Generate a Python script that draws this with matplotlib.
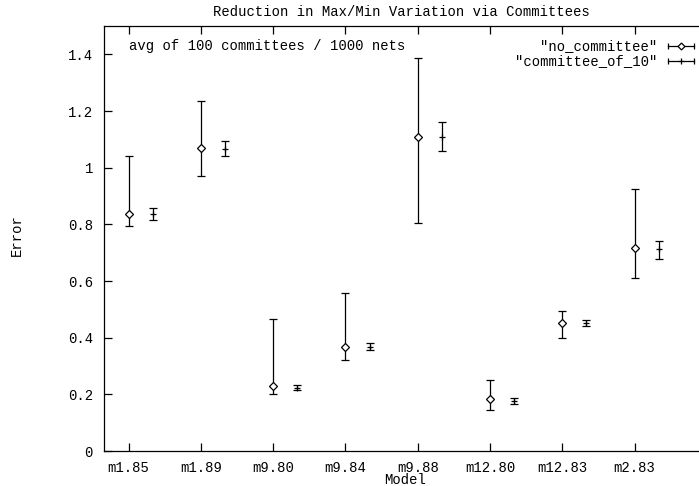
import matplotlib.pyplot as plt
from matplotlib.ticker import FuncFormatter, MultipleLocator

models = ['m1.85', 'm1.89', 'm9.80', 'm9.84', 'm9.88', 'm12.80', 'm12.83', 'm2.83']

# no committee: mean with min / max over the nets
no_comm_mean = [0.838, 1.071, 0.230, 0.368, 1.110, 0.185, 0.453, 0.718]
no_comm_min  = [0.793, 0.971, 0.200, 0.321, 0.805, 0.145, 0.399, 0.612]
no_comm_max  = [1.042, 1.237, 0.465, 0.556, 1.387, 0.249, 0.494, 0.925]

# committee of 10
comm10_mean = [0.835, 1.066, 0.223, 0.368, 1.107, 0.176, 0.452, 0.712]
comm10_min  = [0.814, 1.042, 0.214, 0.358, 1.059, 0.165, 0.440, 0.678]
comm10_max  = [0.858, 1.094, 0.232, 0.381, 1.161, 0.187, 0.463, 0.742]

FONT = 'Liberation Mono'
FS = 10


def main():
    W, H = 699, 486
    fig = plt.figure(figsize=(W / 100, H / 100), dpi=100)
    # axes box in pixels: left 104, right 699, top 26, bottom 451
    ax = fig.add_axes([104 / W, (H - 451) / H, 595 / W, 425 / H])

    xs = list(range(len(models)))
    xs2 = [x + 1 / 3 for x in xs]

    err_no = [[m - lo for m, lo in zip(no_comm_mean, no_comm_min)],
              [hi - m for m, hi in zip(no_comm_mean, no_comm_max)]]
    err_c = [[m - lo for m, lo in zip(comm10_mean, comm10_min)],
             [hi - m for m, hi in zip(comm10_mean, comm10_max)]]

    ax.errorbar(xs, no_comm_mean, yerr=err_no, fmt='D', ms=4, mfc='white',
                mec='black', mew=0.9, ecolor='black', elinewidth=0.9,
                capsize=3, capthick=0.9, zorder=3)
    ax.errorbar(xs2, comm10_mean, yerr=err_c, fmt='+', ms=5, mec='black',
                mew=0.9, ecolor='black', elinewidth=0.9,
                capsize=3, capthick=0.9, zorder=3)

    ax.set_xlim(-0.34, 7.89)
    ax.set_ylim(0, 1.5)

    ax.set_xticks(xs)
    ax.set_xticklabels(models, fontfamily=FONT, fontsize=FS)
    ax.yaxis.set_major_locator(MultipleLocator(0.2))
    ax.yaxis.set_major_formatter(FuncFormatter(lambda v, p: '%g' % round(v, 2)))
    for lab in ax.get_yticklabels():
        lab.set_fontfamily(FONT)
        lab.set_fontsize(FS)

    # gnuplot style ticks: inward, mirrored on top
    ax.tick_params(axis='x', direction='in', length=6, width=0.9, top=True,
                   pad=7, colors='black')
    ax.tick_params(axis='y', direction='in', length=6, width=0.9, right=False,
                   pad=8, colors='black')
    for s in ['left', 'bottom', 'top']:
        ax.spines[s].set_linewidth(0.9)
    ax.spines['right'].set_visible(False)

    # labels
    fig.text(401 / W, 1 - 12 / H, 'Reduction in Max/Min Variation via Committees',
             ha='center', va='center', fontfamily=FONT, fontsize=FS)
    fig.text(405 / W, 1 - 480 / H, 'Model', ha='center', va='center',
             fontfamily=FONT, fontsize=FS)
    fig.text(17 / W, 1 - 235 / H, 'Error', ha='center', va='center',
             rotation=90, fontfamily=FONT, fontsize=FS)
    ax.text(0, 1.43, 'avg of 100 committees / 1000 nets', ha='left', va='center',
            fontfamily=FONT, fontsize=FS)

    # key, drawn by hand like gnuplot (horizontal error bar sample)
    keys = [('"no_committee"', 'D', 3.5), ('"committee_of_10"', '+', 5)]
    rows = [46, 61]
    for (label, mk, ms), py in zip(keys, rows):
        ya = (451 - py) / 425
        x0 = (668 - 104) / 595
        x1 = (694 - 104) / 595
        ax.text((657 - 104) / 595, ya, label, transform=ax.transAxes,
                ha='right', va='center', fontfamily=FONT, fontsize=FS)
        ax.plot([x0, x1], [ya, ya], color='black', lw=0.9,
                transform=ax.transAxes, clip_on=False)
        ax.plot([x0, x1], [ya, ya], ls='none', marker='|', ms=5, mew=0.9,
                color='black', transform=ax.transAxes, clip_on=False)
        ax.plot([(x0 + x1) / 2], [ya], ls='none', marker=mk, ms=ms, mfc='white',
                mec='black', mew=0.9, transform=ax.transAxes, clip_on=False)

    fig.savefig('out.png', dpi=100)


if __name__ == '__main__':
    main()
